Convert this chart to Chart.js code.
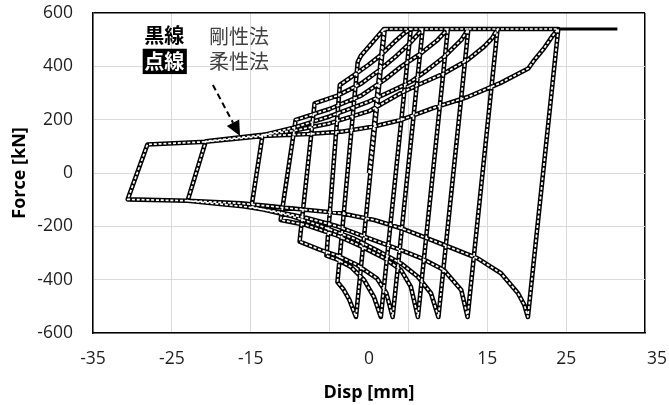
<!DOCTYPE html>
<html><head><meta charset="utf-8">
<script src="https://cdn.jsdelivr.net/npm/chart.js@4.4.0/dist/chart.umd.min.js"></script>
<style>html,body{margin:0;padding:0;background:#fff;overflow:hidden}canvas{display:block}</style>
</head><body>
<canvas id="c" width="669" height="405" style="width:669px;height:405px"></canvas>
<script>
// ---- axis ticks ----
const xTickValues = [-35, -25, -15, -5, 0, 5, 15, 25, 35];
const xTickLabels = ['-35', '-25', '-15', '', '0', '', '15', '25', ''];
const xLastLabel = '35';
const yMin = -600, yMax = 600, yStep = 200;

// ---- hysteresis path, [disp mm, force kN] ----
// right-going branches (reload -> upper curve -> cap -> plateau end)
const push1 = [[0, 0], [1.9, 540], [2.0, 540]];
const push2 = [[-1.43, 416], [-1.0, 441], [0.67, 498], [1.9, 540], [5.3, 540]];
const push3 = [[-3.7, 330], [-1.9, 367], [-0.1, 405], [1.5, 442], [3.2, 491], [4.5, 525], [5.3, 540], [6.8, 540]];
const push4 = [[-6.9, 261], [-4.0, 290], [-1.0, 335], [1.5, 390], [3.5, 440], [5.3, 490], [6.8, 540], [10.0, 540]];
const push5 = [[-9.3, 199], [-5.0, 240], [-1.0, 290], [2.0, 350], [4.06, 399], [6.6, 449], [8.7, 499], [10.0, 540], [12.6, 540]];
const push6 = [[-13.5, 142], [-9.3, 172], [-5.0, 212], [0, 268], [4.06, 324], [5.3, 342], [7.4, 386], [9.55, 436], [11.7, 499], [12.6, 540], [16.3, 540]];
const push7 = [[-20.7, 119], [-13.5, 143], [-9.3, 160], [-5.0, 186], [0.0, 232], [4.06, 300], [6.2, 330], [9.55, 374], [12.5, 424], [14.6, 474], [15.6, 505], [16.3, 540], [24.0, 540]];
const push8 = [[-28.1, 107], [-20.7, 117], [-13.4, 139], [-7.7, 146], [-3.5, 155], [0.6, 174], [4.06, 199], [8.2, 244], [12.5, 285], [16.7, 338], [20.2, 392], [21.0, 425], [22.2, 468], [23.3, 515], [24.0, 540], [31.5, 540]];
// left-going branches (unload -> cusp -> lower curve -> left extreme)
const pull1 = [[-1.65, -540], [-2.5, -475], [-3.2, -438], [-4.0, -409]];
const pull2 = [[1.5, -540], [0.63, -465], [-0.63, -401], [-2.3, -352], [-4.0, -325], [-5.4, -310]];
const pull3 = [[3.0, -540], [2.2, -450], [1.0, -395], [-1.5, -345], [-4.0, -310], [-6.1, -289], [-8.8, -257]];
const pull4 = [[6.2, -540], [5.3, -426], [4.06, -364], [2.0, -320], [-1.0, -275], [-4.0, -235], [-8.0, -195], [-11.2, -176]];
const pull5 = [[8.8, -540], [7.86, -451], [6.2, -389], [4.06, -339], [1.0, -290], [-2.0, -245], [-6.0, -200], [-10.0, -160], [-14.9, -127]];
const pull6 = [[12.5, -540], [11.7, -439], [9.5, -364], [6.6, -319], [4.06, -289], [0.0, -245], [-4.0, -200], [-8.0, -168], [-12.0, -143], [-16.0, -125], [-23.0, -104]];
const pull7 = [[20.15, -540], [19.7, -495], [18.9, -451], [16.74, -376], [13.78, -320], [9.55, -270], [4.06, -207], [0.67, -176], [-3.55, -151], [-7.77, -139], [-12.0, -126], [-16.2, -114], [-23.0, -104], [-30.6, -99]];

const rigidPath = [].concat(push1, pull1, push2, pull2, push3, pull3, push4, pull4,
                            push5, pull5, push6, pull6, push7, pull7, push8);
// flexibility-method result ends at the cap point (no final plateau)
const flexPath = rigidPath.slice(0, rigidPath.length - 1);

const tickFont = {family: "'Open Sans', sans-serif", size: 17.5};
const titleFont = {family: "'Open Sans', sans-serif", size: 18, weight: 'bold'};
const tickColor = '#1e1e1e';
const gridGray = '#d9d9d9';

const notesPlugin = {
  id: 'notes',
  afterDraw(chart) {
    const {ctx, scales: {x, y}} = chart;
    const px = v => x.getPixelForValue(v), py = v => y.getPixelForValue(v);
    ctx.save();
    // last x tick label (drawn slightly right of its tick, as in the original)
    ctx.font = `${tickFont.size}px ${tickFont.family}`;
    ctx.fillStyle = tickColor;
    ctx.textAlign = 'left';
    ctx.textBaseline = 'middle';
    ctx.fillText(xLastLabel, px(35) + 2, y.bottom + 16 + tickFont.size * 0.6);
    // legend notes
    const cjk = "'Noto Sans CJK JP', sans-serif";
    ctx.font = `bold 20px ${cjk}`;
    ctx.fillStyle = '#000';
    ctx.fillText('黒線', px(-28.5), py(515));
    const bx0 = px(-28.7), bx1 = px(-23.1), by0 = py(466), by1 = py(371);
    ctx.fillRect(bx0, by0, bx1 - bx0, by1 - by0);
    ctx.fillStyle = '#fff';
    ctx.fillText('点線', px(-28.5), py(420));
    ctx.font = `20px ${cjk}`;
    ctx.fillStyle = '#404040';
    ctx.fillText('剛性法', px(-20.3), py(512));
    ctx.fillText('柔性法', px(-20.3), py(418));
    // arrow
    const x0 = px(-19.8), y0 = py(330), x1 = px(-16.35), y1 = py(139);
    const dx = x1 - x0, dy = y1 - y0, L = Math.hypot(dx, dy), ux = dx / L, uy = dy / L;
    const hx = x1 - ux * 15, hy = y1 - uy * 15;
    ctx.strokeStyle = '#000';
    ctx.lineWidth = 2;
    ctx.setLineDash([6, 4]);
    ctx.beginPath();
    ctx.moveTo(x0, y0);
    ctx.lineTo(hx, hy);
    ctx.stroke();
    ctx.setLineDash([]);
    ctx.fillStyle = '#000';
    ctx.beginPath();
    ctx.moveTo(x1, y1);
    ctx.lineTo(hx - uy * 7, hy + ux * 7);
    ctx.lineTo(hx + uy * 7, hy - ux * 7);
    ctx.closePath();
    ctx.fill();
    ctx.restore();
  }
};

new Chart(document.getElementById('c'), {
  type: 'scatter',
  data: {
    datasets: [
      {label: '柔性法 dash', data: flexPath, showLine: true, pointRadius: 0, borderColor: '#ffffff',
       borderWidth: 1.7, borderDash: [3, 1.8], borderJoinStyle: 'round', order: 0},
      {label: '柔性法', data: flexPath, showLine: true, pointRadius: 0, borderColor: '#000000',
       borderWidth: 4.6, borderJoinStyle: 'round', order: 1},
      {label: '剛性法', data: rigidPath, showLine: true, pointRadius: 0, borderColor: '#000000',
       borderWidth: 3, borderJoinStyle: 'round', order: 2}
    ]
  },
  options: {
    responsive: false,
    animation: false,
    devicePixelRatio: 1,
    layout: {padding: {top: 13, right: 24, left: 0, bottom: 0}},
    plugins: {legend: {display: false}, tooltip: {enabled: false}},
    scales: {
      x: {
        type: 'linear', min: -35, max: 35,
        afterBuildTicks: s => { s.ticks = xTickValues.map(v => ({value: v})); },
        afterFit: s => { s.height = 72; s.paddingLeft = 0; s.paddingRight = 0; },
        ticks: {
          autoSkip: false, maxRotation: 0, padding: 16, font: tickFont, color: tickColor,
          callback: v => { const i = xTickValues.indexOf(v); return i >= 0 ? xTickLabels[i] : ''; }
        },
        grid: {
          drawTicks: false,
          color: c => c.tick.value === 0 ? 'rgba(0,0,0,0)' : (c.tick.value === 35 ? '#000' : gridGray),
          lineWidth: c => c.tick.value === 35 ? 1.5 : 1
        },
        border: {color: '#000', width: 1.5},
        title: {display: true, text: 'Disp [mm]', font: titleFont, color: '#000', padding: {top: 0, bottom: 1}}
      },
      y: {
        min: yMin, max: yMax,
        afterFit: s => { s.width = 93; s.paddingTop = 0; s.paddingBottom = 0; },
        ticks: {stepSize: yStep, padding: 20, font: tickFont, color: tickColor},
        grid: {
          drawTicks: false,
          color: c => c.tick.value === yMax ? '#000' : gridGray,
          lineWidth: c => c.tick.value === yMax ? 1.5 : 1
        },
        border: {color: '#000', width: 1.5},
        title: {display: true, text: 'Force [kN]', font: titleFont, color: '#000', padding: {top: 9, bottom: 0}}
      }
    }
  },
  plugins: [notesPlugin]
});
</script>
</body></html>
